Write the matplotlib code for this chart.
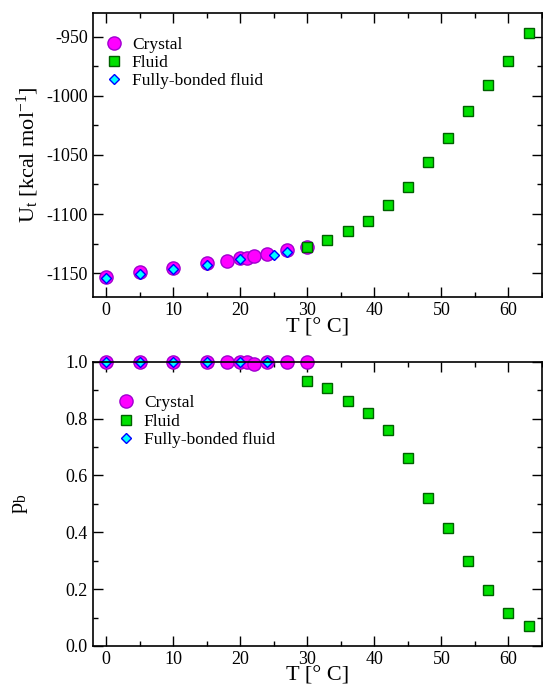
import matplotlib
matplotlib.use("Agg")
from matplotlib import pyplot as plt
from matplotlib.ticker import MultipleLocator

plt.rcParams['font.family'] = ['Liberation Serif', 'DejaVu Serif']
plt.rcParams['mathtext.fontset'] = 'custom'
plt.rcParams['mathtext.rm'] = 'Liberation Serif'
plt.rcParams['mathtext.it'] = 'Liberation Serif:italic'
plt.rcParams['axes.unicode_minus'] = False

# energie U_t
T_cristal = [0, 5, 10, 15, 18, 20, 21, 22, 24, 27, 30]
U_cristal = [-1153.2, -1149.0, -1145.6, -1141.4, -1139.7, -1137.5, -1136.8, -1135.5, -1133.8, -1130.4, -1127.9]
T_fluid = [30, 33, 36, 39, 42, 45, 48, 51, 54, 57, 60, 63]
U_fluid = [-1127.9, -1122.0, -1114.4, -1106.0, -1092.5, -1077.3, -1056.2, -1036.0, -1013.2, -991.3, -970.2, -946.6]
T_legat = [0, 5, 10, 15, 20, 25, 27]
U_legat = [-1154.0, -1150.7, -1146.5, -1143.0, -1138.0, -1134.6, -1132.0]

# p_b
Tp_cristal = [0, 5, 10, 15, 18, 20, 21, 22, 24, 27, 30]
p_cristal = [1.0, 1.0, 1.0, 1.0, 1.0, 1.0, 0.998, 0.993, 1.0, 1.0, 1.0]
Tp_fluid = [30, 33, 36, 39, 42, 45, 48, 51, 54, 57, 60, 63]
p_fluid = [0.934, 0.908, 0.863, 0.820, 0.760, 0.662, 0.522, 0.414, 0.299, 0.197, 0.115, 0.070]
Tp_legat = [0, 5, 10, 15, 20, 24]
p_legat = [1.0, 1.0, 1.0, 1.0, 1.0, 1.0]

stil_cristal = dict(marker='o', ls='none', ms=9.5, mfc='#ff00ff', mec='#a000d0', mew=1.0, label='Crystal', clip_on=False)
stil_fluid = dict(marker='s', ls='none', ms=6.5, mfc='#00e000', mec='#006000', mew=1.0, label='Fluid', clip_on=False)
stil_legat = dict(marker='D', ls='none', ms=4.8, mfc='#00ffff', mec='#0000ff', mew=1.0, label='Fully-bonded fluid', clip_on=False)

fig = plt.figure(figsize=(5.43, 6.84), dpi=100)
ax1 = fig.add_axes([0.171, 0.566, 0.827, 0.415])
ax2 = fig.add_axes([0.171, 0.0556, 0.827, 0.4154])

ax1.plot(T_cristal, U_cristal, **stil_cristal)
ax1.plot(T_fluid, U_fluid, **stil_fluid)
ax1.plot(T_legat, U_legat, **stil_legat)
ax1.set_xlim(-2, 65)
ax1.set_ylim(-1170, -930)
ax1.yaxis.set_major_locator(MultipleLocator(50))
ax1.yaxis.set_minor_locator(MultipleLocator(25))
ax1.set_ylabel('U$_\\mathrm{t}$ [kcal mol$^\\mathrm{-1}$]', fontsize=16)
ax1.set_xlabel('T [° C]', fontsize=16, labelpad=0)

ax2.plot(Tp_cristal, p_cristal, **stil_cristal)
ax2.plot(Tp_fluid, p_fluid, **stil_fluid)
ax2.plot(Tp_legat, p_legat, **stil_legat)
ax2.set_xlim(-2, 65)
ax2.set_ylim(0, 1)
ax2.yaxis.set_major_locator(MultipleLocator(0.2))
ax2.yaxis.set_minor_locator(MultipleLocator(0.1))
ax2.set_yticks([0, 0.2, 0.4, 0.6, 0.8, 1.0], ['0.0', '0.2', '0.4', '0.6', '0.8', '1.0'])
ax2.set_ylabel('p$_\\mathrm{b}$', fontsize=16, labelpad=26)
ax2.set_xlabel('T [° C]', fontsize=16, labelpad=-1)

for ax in (ax1, ax2):
    ax.xaxis.set_major_locator(MultipleLocator(10))
    ax.xaxis.set_minor_locator(MultipleLocator(5))
    ax.tick_params(which='both', direction='in', top=True, right=True, labelsize=13, width=1.0)
    ax.tick_params(which='major', length=7)
    ax.tick_params(which='minor', length=3.5)
    for s in ax.spines.values():
        s.set_linewidth(1.2)

ax1.legend(loc='upper left', bbox_to_anchor=(-0.01, 0.96), frameon=False, fontsize=12.5,
           handletextpad=0.3, borderaxespad=0.3, labelspacing=0.12, handlelength=1.5)
ax2.legend(loc='upper left', bbox_to_anchor=(0.017, 0.925), frameon=False, fontsize=12.5,
           handletextpad=0.3, borderaxespad=0.3, labelspacing=0.12, handlelength=1.5)

fig.savefig('out.png', dpi=100)
